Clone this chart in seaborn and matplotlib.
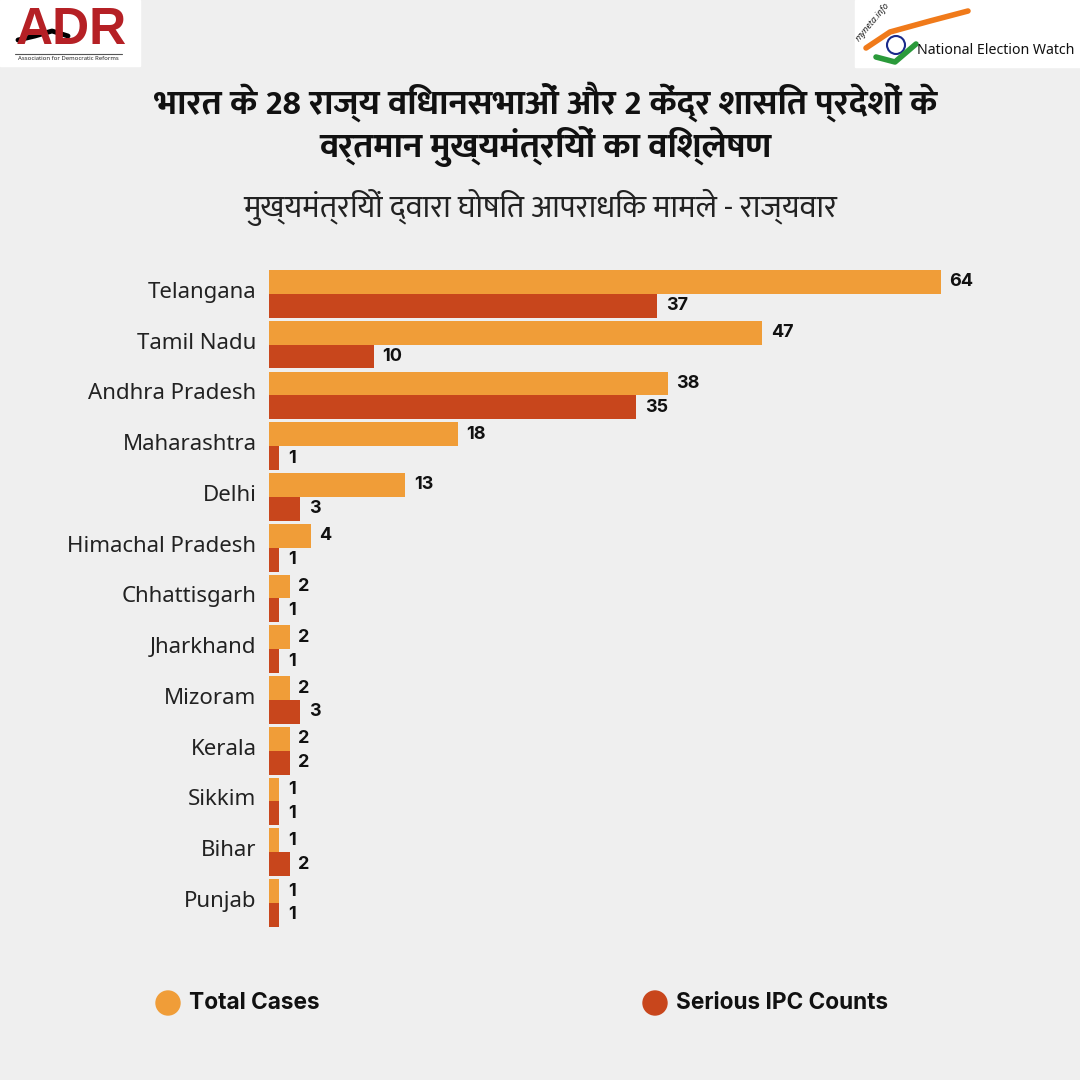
import pandas as pd
import matplotlib.pyplot as plt
import matplotlib.transforms as mtransforms
import seaborn as sns
from matplotlib import font_manager
from matplotlib.patches import Rectangle, Circle
from matplotlib.lines import Line2D

# Data
states = ["Telangana", "Tamil Nadu", "Andhra Pradesh", "Maharashtra", "Delhi",
          "Himachal Pradesh", "Chhattisgarh", "Jharkhand", "Mizoram", "Kerala",
          "Sikkim", "Bihar", "Punjab"]
total_cases = [64, 47, 38, 18, 13, 4, 2, 2, 2, 2, 1, 1, 1]
serious_ipc = [37, 10, 35, 1, 3, 1, 1, 1, 3, 2, 1, 2, 1]
series_names = ["Total Cases", "Serious IPC Counts"]

title = "भारत के 28 राज्य विधानसभाओं और 2 केंद्र शासित प्रदेशों के\nवर्तमान मुख्यमंत्रियों का विश्लेषण"
subtitle = "मुख्यमंत्रियों द्वारा घोषित आपराधिक मामले - राज्यवार"

df = pd.DataFrame({
    "State": states * 2,
    "Cases": total_cases + serious_ipc,
    "Type": [series_names[0]] * len(states) + [series_names[1]] * len(states),
})

BG = "#efefef"
ORANGE = "#f09d38"
RED = "#c8461c"

sns.set_theme(style="white")
plt.rcParams['font.family'] = ['Noto Sans', 'DejaVu Sans']

# look for fonts that can draw Devanagari, prefer one with a bold face
cands = {}
for f in font_manager.fontManager.ttflist:
    n = (f.name + " " + f.fname).lower()
    if any(k in n for k in ["devanagari", "lohit", "mangal", "gargi", "kalimati", "mukta", "hind"]):
        w = f.weight if isinstance(f.weight, int) else 400
        cands.setdefault(f.name, set()).add(w)
deva = None
if cands:
    deva = max(cands, key=lambda k: (max(cands[k]) >= 600, "ui" not in k.lower()))
hindi_family = [deva, 'Noto Sans', 'DejaVu Sans'] if deva else ['Noto Sans', 'DejaVu Sans']

fig = plt.figure(figsize=(10.8, 10.8), dpi=100, facecolor=BG)
ax = fig.add_axes([0.249, 0.1404, 0.6806, 0.611])
ax.set_facecolor(BG)

sns.barplot(data=df, y="State", x="Cases", hue="Type", order=states,
            hue_order=series_names, palette=[ORANGE, RED], width=0.94,
            orient="h", ax=ax, legend=False, saturation=1, linewidth=0)

for c in ax.containers:
    ax.bar_label(c, padding=6, fontsize=13, fontweight="bold", color="#111111",
                 family=['Inter', 'DejaVu Sans'])

ax.set_xlim(0, 70)
ax.set_ylim(12.5, -0.5)
ax.set_xlabel("")
ax.set_ylabel("")
ax.set_xticks([])
ax.tick_params(axis="y", length=0, pad=9, labelsize=16, labelcolor="#222222")
# state names sit a little above the middle of their pair of bars
lift = mtransforms.ScaledTranslation(0, 4 / 100, fig.dpi_scale_trans)
for t in ax.get_yticklabels():
    t.set_transform(t.get_transform() + lift)
sns.despine(ax=ax, left=True, bottom=True)

# titles
fig.text(0.505, 1 - 124 / 1080, title, ha="center", va="center", fontsize=25.5,
         fontweight="bold", linespacing=1.12, family=hindi_family, color="#111111")
fig.text(0.5, 1 - 207 / 1080, subtitle, ha="center", va="center", fontsize=22.5,
         family=hindi_family, color="#222222")

# legend
fig.patches.append(Circle((168 / 1080, 1 - 1003 / 1080), 12 / 1080,
                          transform=fig.transFigure, color=ORANGE))
fig.text(189 / 1080, 1 - 1003 / 1080, series_names[0], ha="left", va="center",
         fontsize=16.3, fontweight="bold", family=['Inter', 'DejaVu Sans'], color="#111111")
fig.patches.append(Circle((655 / 1080, 1 - 1003 / 1080), 12 / 1080,
                          transform=fig.transFigure, color=RED))
fig.text(676 / 1080, 1 - 1003 / 1080, series_names[1], ha="left", va="center",
         fontsize=16.3, fontweight="bold", family=['Inter', 'DejaVu Sans'], color="#111111")

# logos (approximate)
fig.patches.append(Rectangle((0, 1 - 66 / 1080), 140 / 1080, 66 / 1080,
                             transform=fig.transFigure, color="white"))
fig.text(71 / 1080, 1 - 30 / 1080, "ADR", ha="center", va="center", fontsize=37,
         fontweight="bold", color="#b52025", family=["Liberation Sans", "DejaVu Sans"])
fig.lines.append(Line2D([18 / 1080, 35 / 1080, 52 / 1080, 68 / 1080],
                        [1 - 40 / 1080, 1 - 36 / 1080, 1 - 31 / 1080, 1 - 36 / 1080],
                        transform=fig.transFigure, color="black", lw=3.5))
fig.lines.append(Line2D([15 / 1080, 122 / 1080], [1 - 54 / 1080, 1 - 54 / 1080],
                        transform=fig.transFigure, color="#555555", lw=0.8))
fig.text(68 / 1080, 1 - 59 / 1080, "Association for Democratic Reforms",
         ha="center", va="center", fontsize=4.3, color="#222222", fontweight="bold")
fig.patches.append(Rectangle((855 / 1080, 1 - 67 / 1080), 225 / 1080, 67 / 1080,
                             transform=fig.transFigure, color="white"))
fig.lines.append(Line2D([866 / 1080, 890 / 1080, 930 / 1080, 968 / 1080],
                        [1 - 48 / 1080, 1 - 32 / 1080, 1 - 21 / 1080, 1 - 11 / 1080],
                        transform=fig.transFigure, color="#f07a1a", lw=4))
fig.lines.append(Line2D([876 / 1080, 895 / 1080, 916 / 1080],
                        [1 - 57 / 1080, 1 - 62 / 1080, 1 - 44 / 1080],
                        transform=fig.transFigure, color="#2a9a3a", lw=4))
fig.text(873 / 1080, 1 - 22 / 1080, "myneta.info", ha="center", va="center",
         fontsize=6.5, rotation=50, color="#222222", fontstyle="italic")
fig.text(917 / 1080, 1 - 50 / 1080, "National Election Watch", ha="left",
         va="center", fontsize=10.2, color="#111111")
fig.patches.append(Circle((896 / 1080, 1 - 45 / 1080), 9 / 1080,
                          transform=fig.transFigure, facecolor="white",
                          edgecolor="#1a2a8a", lw=1.5))

fig.savefig("out.png", dpi=100, facecolor=BG)
